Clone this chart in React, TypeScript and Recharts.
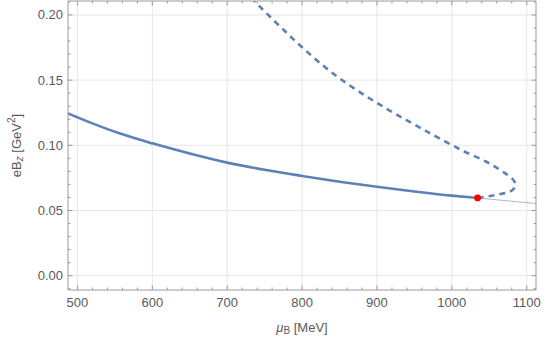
import React from 'react';
import { ComposedChart, Line, Scatter, XAxis, YAxis, ReferenceLine } from 'recharts';

// ---- data ----
const solidX = [487.4, 520, 557, 600, 650, 700, 750, 800, 850, 900, 950, 1000, 1034.4];
const solidY = [0.1245, 0.1168, 0.109, 0.1015, 0.0937, 0.0867, 0.0812, 0.0765, 0.0721, 0.0682, 0.0646, 0.0614, 0.0596];

const thinX = [1034.4, 1112.4];
const thinY = [0.0596, 0.0553];

const dashX = [1034.4, 1055, 1072, 1082, 1085, 1080, 1070, 1046, 1013, 1000, 955, 900, 850, 800, 770, 736];
const dashY = [0.0596, 0.0615, 0.0635, 0.0662, 0.07, 0.0748, 0.079, 0.0874, 0.0963, 0.1002, 0.1143, 0.1325, 0.1514, 0.1752, 0.1915, 0.2107];

const criticalX = [1034.4];
const criticalY = [0.0596];

const xDomain = [487.4, 1112.4];
const yDomain = [-0.011, 0.2107];

const xTicks = [500, 520, 540, 560, 580, 600, 620, 640, 660, 680, 700, 720, 740, 760, 780, 800, 820, 840, 860, 880, 900, 920, 940, 960, 980, 1000, 1020, 1040, 1060, 1080, 1100];
const xMajor = [500, 600, 700, 800, 900, 1000, 1100];
const yTicks = [-0.01, 0, 0.01, 0.02, 0.03, 0.04, 0.05, 0.06, 0.07, 0.08, 0.09, 0.1, 0.11, 0.12, 0.13, 0.14, 0.15, 0.16, 0.17, 0.18, 0.19, 0.2, 0.21];
const yMajor = [0, 0.05, 0.1, 0.15, 0.2];

const zip = (xs: number[], ys: number[]) => xs.map((x, i) => ({ x, y: ys[i] }));
const solidData = zip(solidX, solidY);
const thinData = zip(thinX, thinY);
const dashData = zip(dashX, dashY);
const critData = zip(criticalX, criticalY);

// ---- styles ----
const LINE = '#5E81B5';
const AXIS = '#9a9a9a';
const GRID = '#e6e6e6';
const TEXT = '#5a5a5a';
const FONT = '"Liberation Sans", Arial, sans-serif';
const FS = 13;
const TM = 6; // tick margin used for position arithmetic
const MAJ = 4.5;
const MIN = 2.5;

const isMajX = (v: number) => xMajor.some((m) => Math.abs(m - v) < 1e-6);
const isMajY = (v: number) => yMajor.some((m) => Math.abs(m - v) < 1e-6);

const BottomTick = (p: any) => {
  const { x, y, payload } = p;
  const v = payload.value;
  const ay = y - TM;
  const major = isMajX(v);
  return (
    <g>
      <line x1={x} x2={x} y1={ay} y2={ay - (major ? MAJ : MIN)} stroke={AXIS} strokeWidth={1} />
      {major && (
        <text x={x} y={ay + 12} textAnchor="middle" dominantBaseline="central" fill={TEXT} fontSize={FS} fontFamily={FONT}>
          {v}
        </text>
      )}
    </g>
  );
};

const TopTick = (p: any) => {
  const { x, y, payload } = p;
  const ay = y + TM;
  const major = isMajX(payload.value);
  return <line x1={x} x2={x} y1={ay} y2={ay + (major ? MAJ : MIN)} stroke={AXIS} strokeWidth={1} />;
};

const LeftTick = (p: any) => {
  const { x, y, payload } = p;
  const v = payload.value;
  const ax = x + TM;
  const major = isMajY(v);
  return (
    <g>
      <line x1={ax} x2={ax + (major ? MAJ : MIN)} y1={y} y2={y} stroke={AXIS} strokeWidth={1} />
      {major && (
        <text x={ax - 5} y={y} textAnchor="end" dominantBaseline="central" fill={TEXT} fontSize={FS} fontFamily={FONT}>
          {v.toFixed(2)}
        </text>
      )}
    </g>
  );
};

const RightTick = (p: any) => {
  const { x, y, payload } = p;
  const ax = x - TM;
  const major = isMajY(payload.value);
  return <line x1={ax} x2={ax - (major ? MAJ : MIN)} y1={y} y2={y} stroke={AXIS} strokeWidth={1} />;
};

const XTitle = (p: any) => {
  const vb = p.viewBox;
  const cx = vb.x + vb.width / 2;
  const cy = vb.y + 37;
  return (
    <text x={cx} y={cy} textAnchor="middle" dominantBaseline="central" fill={TEXT} fontSize={FS} fontFamily={FONT}>
      <tspan fontStyle="italic">μ</tspan>
      <tspan fontSize={10} dy={3}>B</tspan>
      <tspan dy={-3}> [MeV]</tspan>
    </text>
  );
};

const YTitle = (p: any) => {
  const vb = p.viewBox;
  const cx = 16;
  const cy = vb.y + vb.height / 2;
  return (
    <text x={cx} y={cy} textAnchor="middle" dominantBaseline="central" fill={TEXT} fontSize={FS} fontFamily={FONT} transform={`rotate(-90 ${cx} ${cy})`}>
      <tspan>eB</tspan>
      <tspan fontSize={10} dy={3} fontStyle="italic">z</tspan>
      <tspan dy={-3}> [GeV</tspan>
      <tspan fontSize={10} dy={-5}>2</tspan>
      <tspan dy={5}>]</tspan>
    </text>
  );
};

const Dot = (p: any) => <circle cx={p.cx} cy={p.cy} r={3.4} fill="#ff0000" />;

export default function App() {
  return (
    <div style={{ position: 'absolute', left: 0, top: 0, width: 545, height: 347, background: '#fff' }}>
      <ComposedChart width={545} height={347} margin={{ top: 0, right: 8, bottom: 0, left: 8 }}>
        <XAxis
          xAxisId="b"
          type="number"
          dataKey="x"
          domain={xDomain}
          ticks={xTicks}
          interval={0}
          allowDataOverflow
          orientation="bottom"
          height={57}
          stroke={AXIS}
          tickLine={false}
          tickSize={0}
          tickMargin={TM}
          tick={BottomTick}
          label={{ content: XTitle }}
        />
        <XAxis
          xAxisId="t"
          type="number"
          dataKey="x"
          domain={xDomain}
          ticks={xTicks}
          interval={0}
          allowDataOverflow
          orientation="top"
          height={1}
          stroke={AXIS}
          tickLine={false}
          tickSize={0}
          tickMargin={TM}
          tick={TopTick}
        />
        <YAxis
          yAxisId="l"
          type="number"
          dataKey="y"
          domain={yDomain}
          ticks={yTicks}
          interval={0}
          allowDataOverflow
          orientation="left"
          width={60}
          stroke={AXIS}
          tickLine={false}
          tickSize={0}
          tickMargin={TM}
          tick={LeftTick}
          label={{ content: YTitle }}
        />
        <YAxis
          yAxisId="r"
          type="number"
          dataKey="y"
          domain={yDomain}
          ticks={yTicks}
          interval={0}
          allowDataOverflow
          orientation="right"
          width={1}
          stroke={AXIS}
          tickLine={false}
          tickSize={0}
          tickMargin={TM}
          tick={RightTick}
        />
        {xMajor.map((v) => (
          <ReferenceLine key={'gx' + v} xAxisId="b" yAxisId="l" x={v} stroke={GRID} strokeWidth={1} />
        ))}
        {yMajor.map((v) => (
          <ReferenceLine key={'gy' + v} xAxisId="b" yAxisId="l" y={v} stroke={GRID} strokeWidth={1} />
        ))}
        <Line xAxisId="b" yAxisId="l" data={thinData} dataKey="y" type="linear" stroke={LINE} strokeOpacity={0.7} strokeWidth={0.8} dot={false} activeDot={false} isAnimationActive={false} />
        <Line xAxisId="b" yAxisId="l" data={solidData} dataKey="y" type="monotone" stroke={LINE} strokeWidth={2.6} dot={false} activeDot={false} isAnimationActive={false} />
        <Line xAxisId="b" yAxisId="l" data={dashData} dataKey="y" type="monotoneY" stroke={LINE} strokeWidth={2.6} strokeDasharray="6 5" dot={false} activeDot={false} isAnimationActive={false} />
        <Scatter xAxisId="b" yAxisId="l" data={critData} dataKey="y" shape={Dot} isAnimationActive={false} />
      </ComposedChart>
    </div>
  );
}
